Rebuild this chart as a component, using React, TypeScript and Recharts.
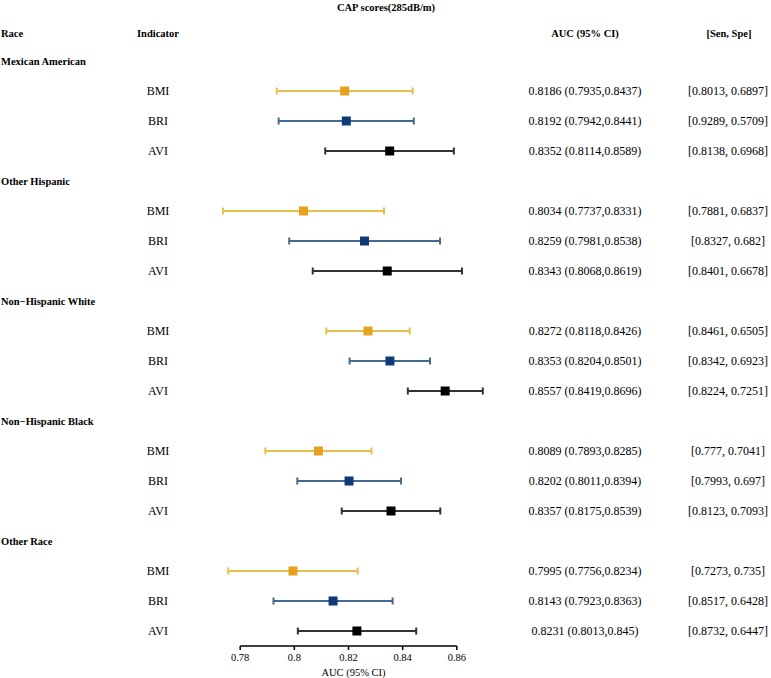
import React from 'react';
import { ScatterChart, Scatter, XAxis, YAxis, ErrorBar, ReferenceLine } from 'recharts';

const races = ['Mexican American', 'Other Hispanic', 'Non\u2212Hispanic White', 'Non\u2212Hispanic Black', 'Other Race'];
const indicators = ['BMI', 'BRI', 'AVI'];
const colors = ['#E6A21C', '#0E3B78', '#000000'];
const lineColors = ['#EABF4E', '#46698F', '#333333'];

// per indicator, per race
const auc = [
  [0.8186, 0.8034, 0.8272, 0.8089, 0.7995],
  [0.8192, 0.8259, 0.8353, 0.8202, 0.8143],
  [0.8352, 0.8343, 0.8557, 0.8357, 0.8231],
];
const lower = [
  [0.7935, 0.7737, 0.8118, 0.7893, 0.7756],
  [0.7942, 0.7981, 0.8204, 0.8011, 0.7923],
  [0.8114, 0.8068, 0.8419, 0.8175, 0.8013],
];
const upper = [
  [0.8437, 0.8331, 0.8426, 0.8285, 0.8234],
  [0.8441, 0.8538, 0.8501, 0.8394, 0.8363],
  [0.8589, 0.8619, 0.8696, 0.8539, 0.845],
];
const sens = [
  [0.8013, 0.7881, 0.8461, 0.777, 0.7273],
  [0.9289, 0.8327, 0.8342, 0.7993, 0.8517],
  [0.8138, 0.8401, 0.8224, 0.8123, 0.8732],
];
const spes = [
  [0.6897, 0.6837, 0.6505, 0.7041, 0.735],
  [0.5709, 0.682, 0.6923, 0.697, 0.6428],
  [0.6968, 0.6678, 0.7251, 0.7093, 0.6447],
];
const xTicks = [0.78, 0.8, 0.82, 0.84, 0.86];

const serif = '"Liberation Serif", "Times New Roman", serif';
const rowOf = (r: number, i: number) => 2 + 4 * r + i;
const rowTicks = Array.from({ length: races.length * 4 + 1 }, (_, k) => k);

const series = indicators.map((name, i) =>
  races.map((_, r) => ({
    row: rowOf(r, i),
    auc: auc[i][r],
    err: [auc[i][r] - lower[i][r], upper[i][r] - auc[i][r]],
  }))
);

const RowTick = (props: any) => {
  const { y, payload } = props;
  const k = payload.value;
  const bold = { fontFamily: serif, fontWeight: 700, fontSize: 10.5, fill: '#000' };
  const reg = { fontFamily: serif, fontSize: 12, fill: '#000' };
  if (k === 0) {
    return (
      <g>
        <text x={386} y={y - 24} textAnchor="middle" dominantBaseline="central" {...bold}>CAP scores(285dB/m)</text>
        <text x={1} y={y + 2} dominantBaseline="central" {...bold}>Race</text>
        <text x={158} y={y + 2} textAnchor="middle" dominantBaseline="central" {...bold}>Indicator</text>
        <text x={585} y={y + 2} textAnchor="middle" dominantBaseline="central" {...bold}>AUC (95% CI)</text>
        <text x={729} y={y + 2} textAnchor="middle" dominantBaseline="central" {...bold}>[Sen, Spe]</text>
      </g>
    );
  }
  const r = Math.floor((k - 1) / 4);
  const j = (k - 1) % 4;
  if (j === 0) {
    return <text x={1} y={y} dominantBaseline="central" {...bold}>{races[r]}</text>;
  }
  const i = j - 1;
  return (
    <g>
      <text x={158} y={y} textAnchor="middle" dominantBaseline="central" {...reg}>{indicators[i]}</text>
      <text x={585} y={y} textAnchor="middle" dominantBaseline="central" {...reg}>
        {`${auc[i][r]} (${lower[i][r]},${upper[i][r]})`}
      </text>
      <text x={728} y={y} textAnchor="middle" dominantBaseline="central" {...reg}>
        {`[${sens[i][r]}, ${spes[i][r]}]`}
      </text>
    </g>
  );
};

const squareShape = (color: string) => (props: any) => (
  <rect x={props.cx - 4.5} y={props.cy - 4.5} width={9} height={9} fill={color} />
);

export default function App() {
  return (
    <div style={{ position: 'absolute', left: 0, top: 0, background: '#fff' }}>
      <ScatterChart width={771} height={678} margin={{ top: 1, right: 260, bottom: 2, left: 0 }}>
        <XAxis
          type="number"
          dataKey="auc"
          domain={[0.76, 0.88]}
          allowDataOverflow
          ticks={xTicks}
          axisLine={false}
          tickSize={4}
          tickMargin={4}
          tickLine={{ stroke: '#000', strokeWidth: 1.5 }}
          tick={{ fontFamily: serif, fontSize: 10.5, fill: '#000' }}
          height={30}
          label={{ value: 'AUC (95% CI)', position: 'insideBottom', offset: 0, dx: 5, style: { fontFamily: serif, fontSize: 10.5, fill: '#000' } }}
        />
        <YAxis
          type="number"
          dataKey="row"
          domain={[-1, 20.5]}
          reversed
          ticks={rowTicks}
          interval={0}
          width={186}
          axisLine={false}
          tickLine={false}
          tick={<RowTick />}
        />
        <ReferenceLine
          segment={[{ x: 0.78, y: 20.5 }, { x: 0.86, y: 20.5 }]}
          stroke="#000"
          strokeWidth={1.5}
          ifOverflow="visible"
        />
        {indicators.map((name, i) => (
          <Scatter
            key={name}
            name={name}
            data={series[i]}
            fill={colors[i]}
            shape={squareShape(colors[i])}
            isAnimationActive={false}
          >
            <ErrorBar dataKey="err" direction="x" width={3.5} stroke={lineColors[i]} strokeWidth={2} />
          </Scatter>
        ))}
      </ScatterChart>
    </div>
  );
}
